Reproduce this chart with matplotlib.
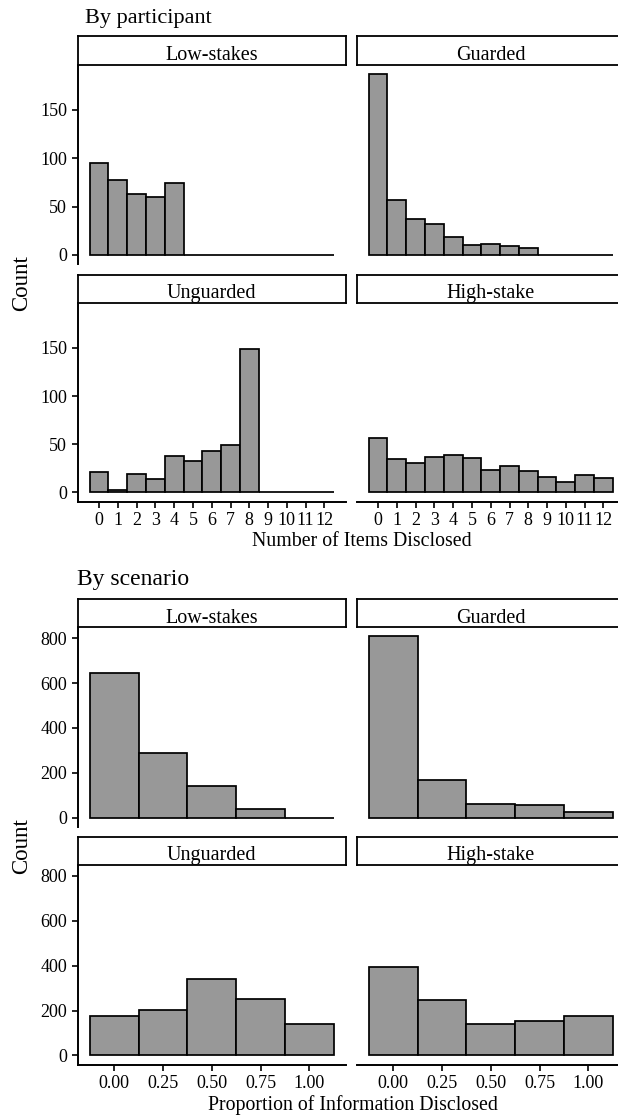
import matplotlib
matplotlib.use("Agg")
import matplotlib.pyplot as plt

plt.rcParams['font.family'] = ['Liberation Serif', 'DejaVu Serif']

# facet order (row by row)
facet_names = ["Low-stakes", "Guarded", "Unguarded", "High-stake"]

# By participant: number of items disclosed (0..12)
items = list(range(13))
part_low = [95, 77, 63, 60, 74, 0, 0, 0, 0, 0, 0, 0, 0]
part_guarded = [187, 57, 37, 32, 19, 10, 11, 9, 7, 0, 0, 0, 0]
part_unguarded = [21, 3, 19, 14, 38, 33, 43, 49, 149, 0, 0, 0, 0]
part_high = [57, 35, 31, 37, 39, 36, 23, 28, 22, 16, 11, 18, 15]

# By scenario: proportion of information disclosed
props = [0.0, 0.25, 0.5, 0.75, 1.0]
prop_labels = ["0.00", "0.25", "0.50", "0.75", "1.00"]
scen_low = [644, 288, 143, 37, 0]
scen_guarded = [808, 167, 60, 55, 24]
scen_unguarded = [177, 201, 341, 252, 140]
scen_high = [393, 248, 139, 155, 177]

W, H = 618, 1115
BAR_FILL = '#989898'


def box(l, t, r, b):
    return [l / W, 1 - b / H, (r - l) / W, (b - t) / H]


cols = [(77.5, 346), (356.5, 625)]

fig = plt.figure(figsize=(W / 100, H / 100), dpi=100)


def draw_section(series, x, width, xticks, xticklabels, yticks, ymax,
                 strips, panels, xlim):
    for i, (name, counts) in enumerate(zip(facet_names, series)):
        row, col = divmod(i, 2)
        l, r = cols[col]
        st, sb = strips[row]
        pt, pb = panels[row]

        # panel
        ax = fig.add_axes(box(l, pt, r, pb))
        ax.set_facecolor('none')
        ax.bar(x, counts, width=width, color=BAR_FILL, edgecolor='black',
               linewidth=1.25)
        ax.set_xlim(*xlim)
        ax.set_ylim(-0.05 * ymax, 1.05 * ymax)
        ax.spines['top'].set_visible(False)
        ax.spines['right'].set_visible(False)
        ax.spines['left'].set_linewidth(1.4)
        ax.spines['bottom'].set_linewidth(1.4)
        ax.tick_params(length=4, width=1.2, pad=3.5, labelsize=13,
                       colors='black')

        ax.set_yticks(yticks)
        if col == 0:
            ax.set_yticklabels([str(v) for v in yticks])
        else:
            ax.spines['left'].set_visible(False)
            ax.tick_params(axis='y', left=False, labelleft=False)

        ax.set_xticks(xticks)
        if row == 1:
            ax.set_xticklabels(xticklabels)
        else:
            ax.spines['bottom'].set_visible(False)
            ax.tick_params(axis='x', bottom=False, labelbottom=False)

        # strip
        sax = fig.add_axes(box(l, st, r, sb))
        sax.set_xticks([])
        sax.set_yticks([])
        for s in sax.spines.values():
            s.set_linewidth(1.3)
        sax.text(0.5, 0.42, name, ha='center', va='center_baseline',
                 fontsize=14.5, transform=sax.transAxes)


# ---- By participant ----
fig.text(84.7 / W, 1 - 23.3 / H, "By participant", fontsize=16,
         ha='left', va='baseline')
draw_section([part_low, part_guarded, part_unguarded, part_high],
             items, 1.0, items, [str(v) for v in items],
             [0, 50, 100, 150], 187,
             strips=[(36.5, 65), (275, 303.3)],
             panels=[(65, 264), (303.3, 501.5)],
             xlim=(-1.15, 13.15))
fig.text(361.7 / W, 1 - 546 / H, "Number of Items Disclosed",
         fontsize=14.3, ha='center', va='baseline')
fig.text(21.7 / W, 1 - 283 / H, "Count", fontsize=16.5, rotation=90,
         ha='center', va='center')

# ---- By scenario ----
fig.text(76.9 / W, 1 - 585 / H, "By scenario", fontsize=17,
         ha='left', va='baseline')
draw_section([scen_low, scen_guarded, scen_unguarded, scen_high],
             props, 0.25, props, prop_labels,
             [0, 200, 400, 600, 800], 808,
             strips=[(599.3, 627.3), (836.7, 865)],
             panels=[(627.3, 826.7), (865, 1064.5)],
             xlim=(-0.1875, 1.1875))
fig.text(352.5 / W, 1 - 1110 / H, "Proportion of Information Disclosed",
         fontsize=14.3, ha='center', va='baseline')
fig.text(21.7 / W, 1 - 846 / H, "Count", fontsize=16.5, rotation=90,
         ha='center', va='center')

fig.savefig('out.png', dpi=100)
